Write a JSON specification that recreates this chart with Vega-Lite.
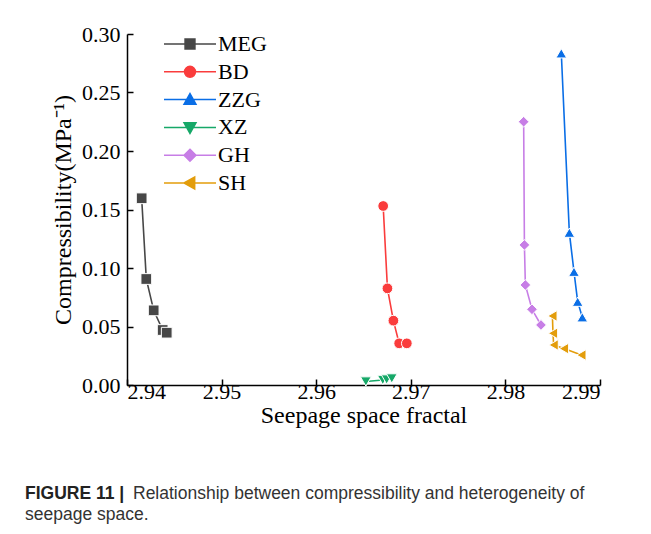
{
  "$schema": "https://vega.github.io/schema/vega-lite/v6.json",
  "padding": {"left": 25, "top": 23, "right": 30, "bottom": 12},
  "background": "white",
  "title": {
    "text": "Relationship between compressibility and heterogeneity of",
    "orient": "bottom",
    "anchor": "start",
    "frame": "bounds",
    "dx": 108,
    "offset": -38,
    "font": "Liberation Sans",
    "fontSize": 17.5,
    "fontWeight": "normal",
    "color": "#333333"
  },
  "vconcat": [
    {
      "width": 473,
      "height": 351,
      "title": {
        "text": "FIGURE 11 |",
        "subtitle": "seepage space.",
        "orient": "bottom",
        "anchor": "start",
        "frame": "group",
        "dx": -102,
        "offset": 58,
        "font": "Liberation Sans",
        "fontSize": 17.5,
        "fontWeight": "bold",
        "color": "#222222",
        "subtitleFont": "Liberation Sans",
        "subtitleFontSize": 17.5,
        "subtitleColor": "#333333",
        "subtitlePadding": 3
      },
      "data": {
        "values": [
          {"series": "MEG", "x": 2.94155, "y": 0.1596},
          {"series": "MEG", "x": 2.94204, "y": 0.0906},
          {"series": "MEG", "x": 2.94282, "y": 0.0638},
          {"series": "MEG", "x": 2.94377, "y": 0.047},
          {"series": "MEG", "x": 2.9442, "y": 0.0447},
          {"series": "BD", "x": 2.96708, "y": 0.153},
          {"series": "BD", "x": 2.96753, "y": 0.0826},
          {"series": "BD", "x": 2.96816, "y": 0.055},
          {"series": "BD", "x": 2.96877, "y": 0.0356},
          {"series": "BD", "x": 2.96958, "y": 0.0356},
          {"series": "ZZG", "x": 2.98591, "y": 0.2835},
          {"series": "ZZG", "x": 2.98676, "y": 0.1302},
          {"series": "ZZG", "x": 2.98725, "y": 0.0968},
          {"series": "ZZG", "x": 2.98764, "y": 0.0712},
          {"series": "ZZG", "x": 2.98813, "y": 0.0579},
          {"series": "XZ", "x": 2.96525, "y": 0.003},
          {"series": "XZ", "x": 2.96704, "y": 0.0043},
          {"series": "XZ", "x": 2.96745, "y": 0.0047},
          {"series": "XZ", "x": 2.96799, "y": 0.0056},
          {"series": "GH", "x": 2.98193, "y": 0.225},
          {"series": "GH", "x": 2.98201, "y": 0.1197},
          {"series": "GH", "x": 2.98211, "y": 0.0855},
          {"series": "GH", "x": 2.98281, "y": 0.0647},
          {"series": "GH", "x": 2.98376, "y": 0.0513},
          {"series": "SH", "x": 2.98497, "y": 0.059},
          {"series": "SH", "x": 2.98503, "y": 0.0442},
          {"series": "SH", "x": 2.9851, "y": 0.0342},
          {"series": "SH", "x": 2.98619, "y": 0.0311},
          {"series": "SH", "x": 2.98803, "y": 0.0256}
        ]
      },
      "encoding": {
        "x": {
          "field": "x",
          "type": "quantitative",
          "scale": {"domain": [2.94, 2.99], "nice": false, "zero": false},
          "axis": {
            "values": [2.94, 2.95, 2.96, 2.97, 2.98, 2.99],
            "format": ".2f",
            "title": "Seepage space fractal",
            "labelPadding": 2,
            "titlePadding": 1
          }
        },
        "y": {
          "field": "y",
          "type": "quantitative",
          "scale": {"domain": [0, 0.3], "nice": false},
          "axis": {
            "values": [0, 0.05, 0.1, 0.15, 0.2, 0.25, 0.3],
            "format": ".2f",
            "title": "Compressibility(MPa⁻¹)",
            "labelPadding": 13,
            "titlePadding": 6
          }
        },
        "color": {
          "field": "series",
          "type": "nominal",
          "sort": ["MEG", "BD", "ZZG", "XZ", "GH", "SH"],
          "scale": {
            "domain": ["MEG", "BD", "ZZG", "XZ", "GH", "SH"],
            "range": ["#474747", "#fa3c3c", "#0a6ee6", "#16a868", "#c77ee6", "#e39d0b"]
          },
          "legend": {
            "orient": "none",
            "legendX": 36,
            "legendY": -2,
            "title": null,
            "padding": 0,
            "symbolType": "circle",
            "symbolSize": 2704,
            "clipHeight": 24,
            "rowPadding": 3.8,
            "labelOffset": 1,
            "labelFont": "Liberation Serif",
            "labelFontSize": 22,
            "labelColor": "black",
            "encoding": {
              "symbols": {
                "shape": {
                  "condition": [
                    {"test": "datum.value === 'MEG'", "value": "M-1,0H1M-0.19,-0.19H0.19V0.19H-0.19Z"},
                    {"test": "datum.value === 'BD'", "value": "M-1,0H1M0.21,0A0.21,0.21 0 1,1 -0.21,0A0.21,0.21 0 1,1 0.21,0Z"},
                    {"test": "datum.value === 'ZZG'", "value": "M-1,0H1M0,-0.23L0.23,0.18H-0.23Z"},
                    {"test": "datum.value === 'XZ'", "value": "M-1,0H1M0,0.23L0.23,-0.18H-0.23Z"},
                    {"test": "datum.value === 'GH'", "value": "M-1,0H1M0,-0.23L0.23,0L0,0.23L-0.23,0Z"}
                  ],
                  "value": "M-1,0H1M-0.23,0L0.18,-0.23V0.23Z"
                },
                "stroke": {
                  "condition": [
                    {"test": "datum.value === 'MEG'", "value": "#474747"},
                    {"test": "datum.value === 'BD'", "value": "#fa3c3c"},
                    {"test": "datum.value === 'ZZG'", "value": "#0a6ee6"},
                    {"test": "datum.value === 'XZ'", "value": "#16a868"},
                    {"test": "datum.value === 'GH'", "value": "#c77ee6"}
                  ],
                  "value": "#e39d0b"
                },
                "strokeWidth": {"value": 1.5},
                "opacity": {"value": 1}
              }
            }
          }
        }
      },
      "layer": [
        {
          "mark": {"type": "line", "strokeWidth": 1.6},
          "encoding": {"detail": {"field": "series"}}
        },
        {
          "mark": {
            "type": "point",
            "filled": true,
            "opacity": 1,
            "size": 115,
            "stroke": "white",
            "strokeWidth": 1,
            "shape": {"expr": "datum.series === 'MEG' ? 'square' : datum.series === 'BD' ? 'circle' : datum.series === 'ZZG' ? 'triangle-up' : datum.series === 'XZ' ? 'triangle-down' : datum.series === 'GH' ? 'diamond' : 'triangle-left'"}
          }
        }
      ]
    }
  ],
  "config": {
    "view": {"stroke": null},
    "font": "Liberation Serif",
    "axis": {
      "grid": false,
      "domainColor": "black",
      "domainWidth": 1.5,
      "tickColor": "black",
      "tickWidth": 1.5,
      "tickSize": -6,
      "labelFont": "Liberation Serif",
      "labelFontSize": 22,
      "labelColor": "black",
      "titleFont": "Liberation Serif",
      "titleFontSize": 24,
      "titleFontWeight": "normal",
      "titleColor": "black"
    }
  }
}
